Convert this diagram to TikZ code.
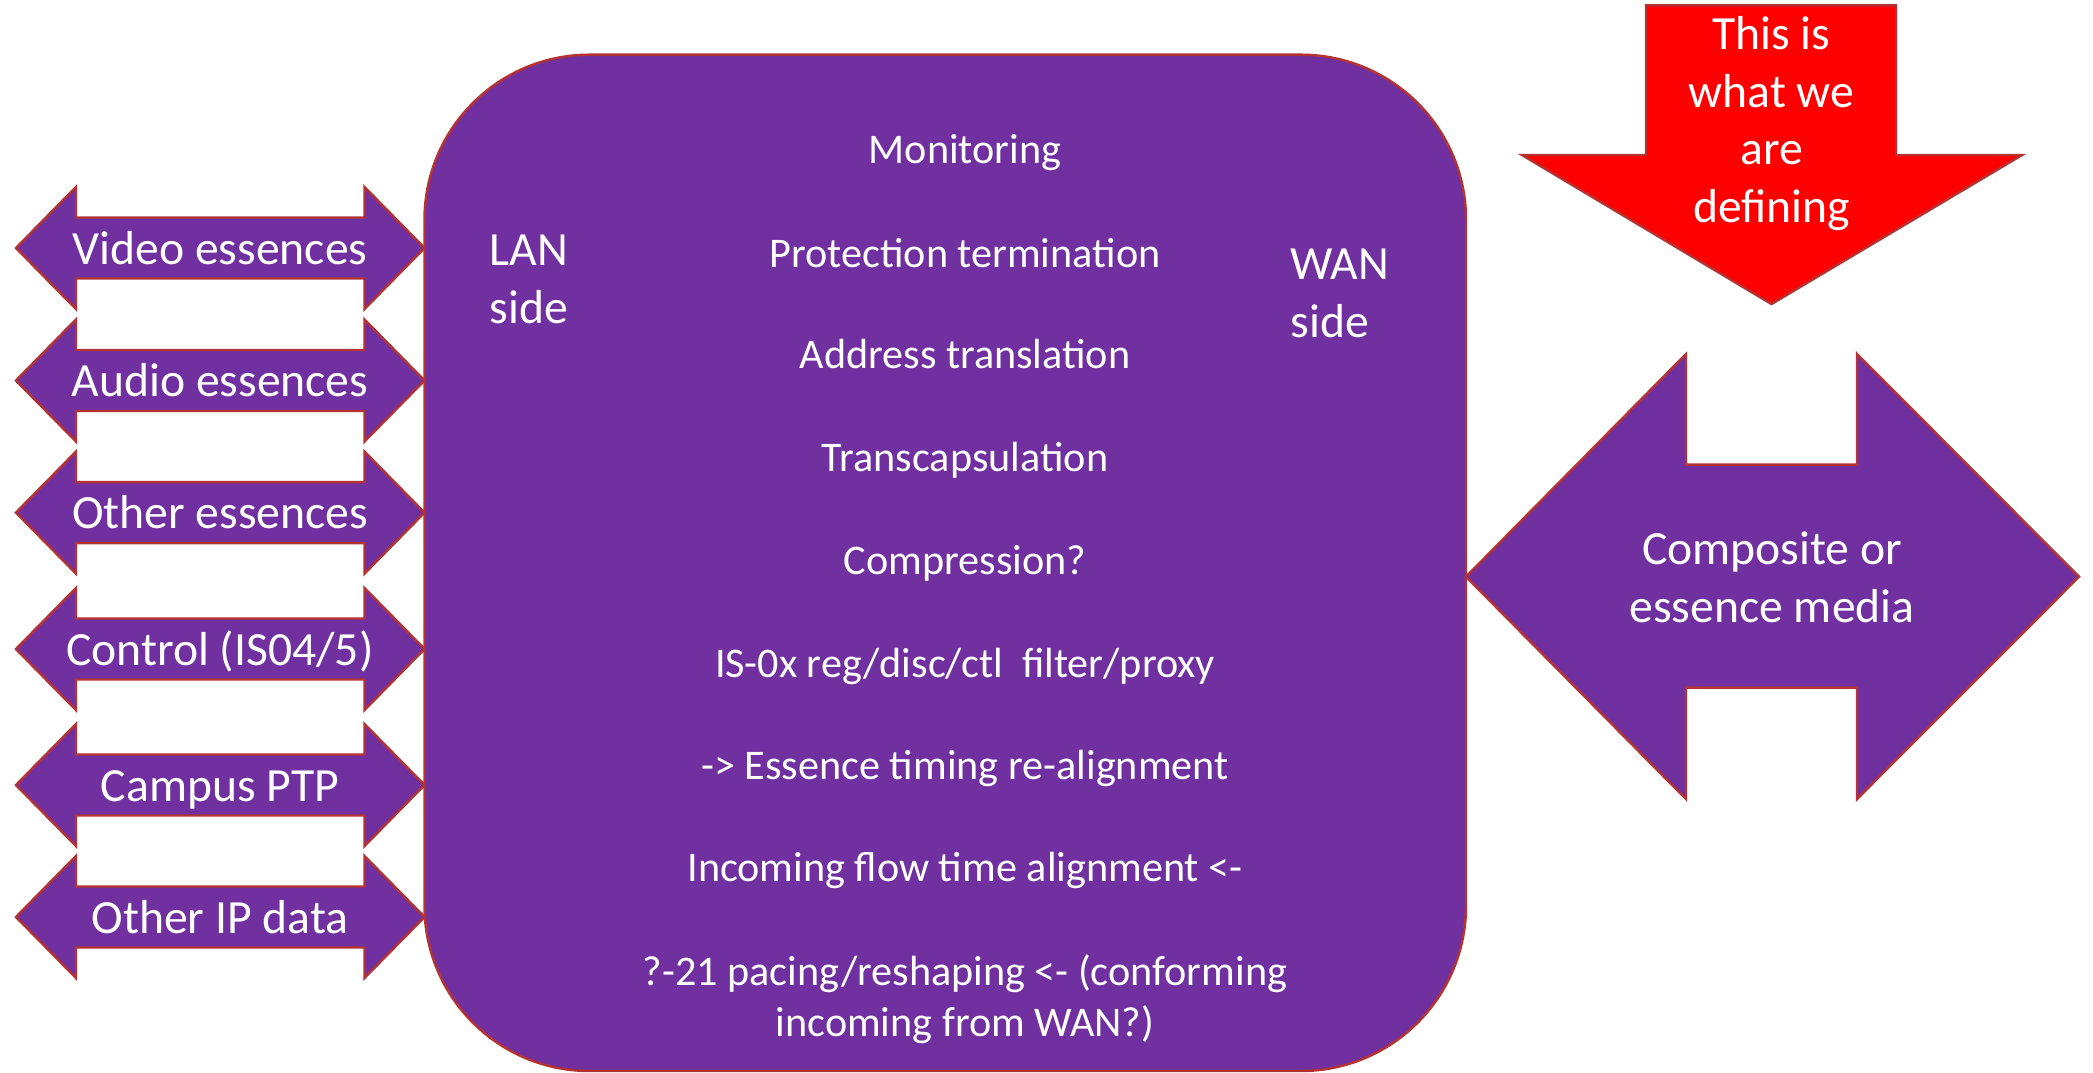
\documentclass[tikz,border=0pt]{standalone}
\usepackage{fontspec}
\setmainfont{Carlito}

\definecolor{wanpurple}{RGB}{112,48,160}
\definecolor{wanred}{RGB}{255,0,0}
\definecolor{wanedge}{RGB}{180,50,50}

\begin{document}
\begin{tikzpicture}[x=0.01cm, y=-0.01cm,
    shapefill/.style={draw=wanedge, line width=0.7pt, fill=wanpurple, line join=miter},
    bigtext/.style={text=white, inner sep=0, font=\fontsize{13.55}{16.44}\selectfont},
    listtext/.style={text=white, inner sep=0, font=\fontsize{12}{14.37}\selectfont}]

        \useasboundingbox (0,0) rectangle (2093,1072);

        \draw[shapefill, rounded corners=1.65cm] (424.5,54.7) rectangle (1466,1071);

        \foreach \yy/\nm/\txt in {248/video/Video essences, 380.5/audio/Audio essences,
            512.6/other/Other essences, 649/control/{Control (IS04/5)},
            785/ptp/Campus PTP, 917/ipdata/Other IP data}
        {
            \draw[shapefill] (16,\yy) -- (76,\yy-61) -- (76,\yy-30.5) -- (364.5,\yy-30.5)
                -- (364.5,\yy-61) -- (424.5,\yy) -- (364.5,\yy+61) -- (364.5,\yy+30.5)
                -- (76,\yy+30.5) -- (76,\yy+61) -- cycle;
            \node[bigtext, anchor=base] (\nm) at (220,\yy+16) {\txt};
        }

        \draw[shapefill] (1466,576.7) -- (1686,354) -- (1686,464.6) -- (1857,464.6)
            -- (1857,354) -- (2079,576.7) -- (1857,799) -- (1857,687.6)
            -- (1686,687.6) -- (1686,799) -- cycle;
        \node[bigtext, align=center] (media) at (1772,577) {Composite or\\essence media};

        \draw[shapefill, fill=wanred] (1646,5.3) -- (1896,5.3) -- (1896,155) -- (2022,155)
            -- (1771.5,304) -- (1522,155) -- (1646,155) -- cycle;
        \node[bigtext, align=center] (defining) at (1771.5,123.5) {This is\\what we\\are\\defining};

        \node[bigtext, align=left, anchor=west] (lan) at (489,279.5) {LAN\\side};
        \node[bigtext, align=left, anchor=west] (wan) at (1290,293) {WAN\\side};

        \foreach \yy/\nm/\txt in {163/monitor/Monitoring, 267/protect/Protection termination,
            368.5/nat/Address translation, 471.5/transcap/Transcapsulation,
            574/compress/Compression?, 677/isfilter/{IS-0x reg/disc/ctl\ \ filter/proxy},
            779.5/realign/{-> Essence timing re-alignment},
            881.5/incoming/{Incoming flow time alignment <-}}
            \node[listtext, anchor=base] (\nm) at (965,\yy) {\txt};

        \node[listtext, align=center] (pacing) at (965,999)
            {?-21 pacing/reshaping <- (conforming\\incoming from WAN?)};
\end{tikzpicture}
\end{document}
